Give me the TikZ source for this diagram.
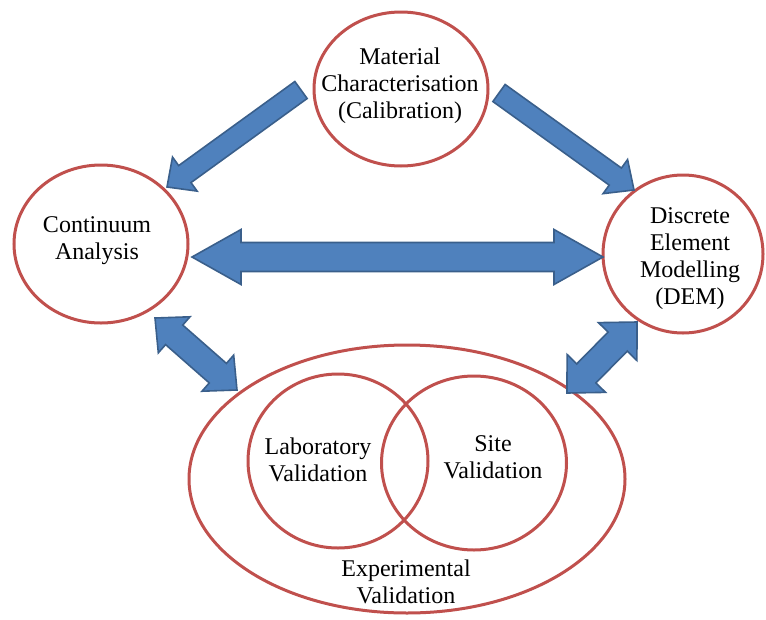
\documentclass[tikz,border=0pt]{standalone}
\usepackage{fontspec}
\setmainfont{Liberation Serif}
\newfontfamily\timesface{Liberation Serif}
\usetikzlibrary{shapes.geometric,calc}
\definecolor{ringred}{HTML}{C0504D}
\definecolor{arrowblue}{HTML}{4F81BD}
\definecolor{arrowedge}{HTML}{3A5F8B}
\tikzset{
  ring/.style={ellipse, draw=ringred, line width=3pt, inner sep=0pt},
  lbl/.style={align=center, font=\timesface\fontsize{24}{27}\selectfont, inner sep=0pt},
  blockarrow/.style={fill=arrowblue, draw=arrowedge, line width=1.6pt, line join=miter},
}
% tail, tip, half shaft width, half head width, head length
\newcommand\singlearrow[5]{%
  \coordinate (tmpK) at ($(#2)!#5!(#1)$);
  \draw[blockarrow] ($(#1)!#3!90:(#2)$) -- ($(tmpK)!#3!90:(#2)$) -- ($(tmpK)!#4!90:(#2)$) -- (#2)
    -- ($(tmpK)!#4!-90:(#2)$) -- ($(tmpK)!#3!-90:(#2)$) -- ($(#1)!#3!-90:(#2)$) -- cycle;}
% end A, end B, half shaft width, half head width, head length
\newcommand\doublearrow[5]{%
  \coordinate (tmpKa) at ($(#1)!#5!(#2)$);
  \coordinate (tmpKb) at ($(#2)!#5!(#1)$);
  \draw[blockarrow] (#1) -- ($(tmpKa)!#4!90:(#2)$) -- ($(tmpKa)!#3!90:(#2)$)
    -- ($(tmpKb)!#3!-90:(#1)$) -- ($(tmpKb)!#4!-90:(#1)$) -- (#2)
    -- ($(tmpKb)!#4!90:(#1)$) -- ($(tmpKb)!#3!90:(#1)$)
    -- ($(tmpKa)!#3!-90:(#2)$) -- ($(tmpKa)!#4!-90:(#2)$) -- cycle;}
\begin{document}
\begin{tikzpicture}[x=1pt,y=-1pt]
\useasboundingbox (0,0) rectangle (766,619);
% ellipses
\node[ring, minimum width=174pt, minimum height=154pt] (mat) at (401,89) {};
\node[ring, minimum width=174pt, minimum height=158pt] (cont) at (101,244) {};
\node[ring, minimum width=160pt, minimum height=158pt] (dem) at (683,254) {};
\node[ring, minimum width=436pt, minimum height=268pt] (exp) at (407,479) {};
\node[ring, minimum width=180pt, minimum height=174pt] (lab) at (338,461) {};
\node[ring, minimum width=185pt, minimum height=174pt] (site) at (474,463) {};
% labels
\node[lbl] (mattext) at (400,86) {Material\\Characterisation\\(Calibration)};
\node[lbl] (conttext) at (97,241) {Continuum\\Analysis};
\node[lbl] (demtext) at (690,259) {Discrete\\Element\\Modelling\\(DEM)};
\node[lbl] (labtext) at (318,460) {Laboratory\\Validation};
\node[lbl] (sitetext) at (493,457) {Site\\Validation};
\node[lbl] (exptext) at (406,582) {Experimental\\Validation};
% arrow end points
\coordinate (t1) at (301,90);  \coordinate (h1) at (167,187);
\coordinate (t2) at (499,93);  \coordinate (h2) at (634,190);
\coordinate (a3) at (192,257); \coordinate (b3) at (603,257);
\coordinate (a4) at (155,318); \coordinate (b4) at (237,390);
\coordinate (a5) at (637,322); \coordinate (b5) at (567,393);
% arrows
\singlearrow{t1}{h1}{10.5pt}{21pt}{22pt}
\singlearrow{t2}{h2}{10.5pt}{21pt}{23pt}
\doublearrow{a3}{b3}{14.5pt}{27.5pt}{49pt}
\doublearrow{a4}{b4}{13pt}{24pt}{25.5pt}
\doublearrow{a5}{b5}{13.5pt}{27pt}{27.5pt}
\end{tikzpicture}
\end{document}
